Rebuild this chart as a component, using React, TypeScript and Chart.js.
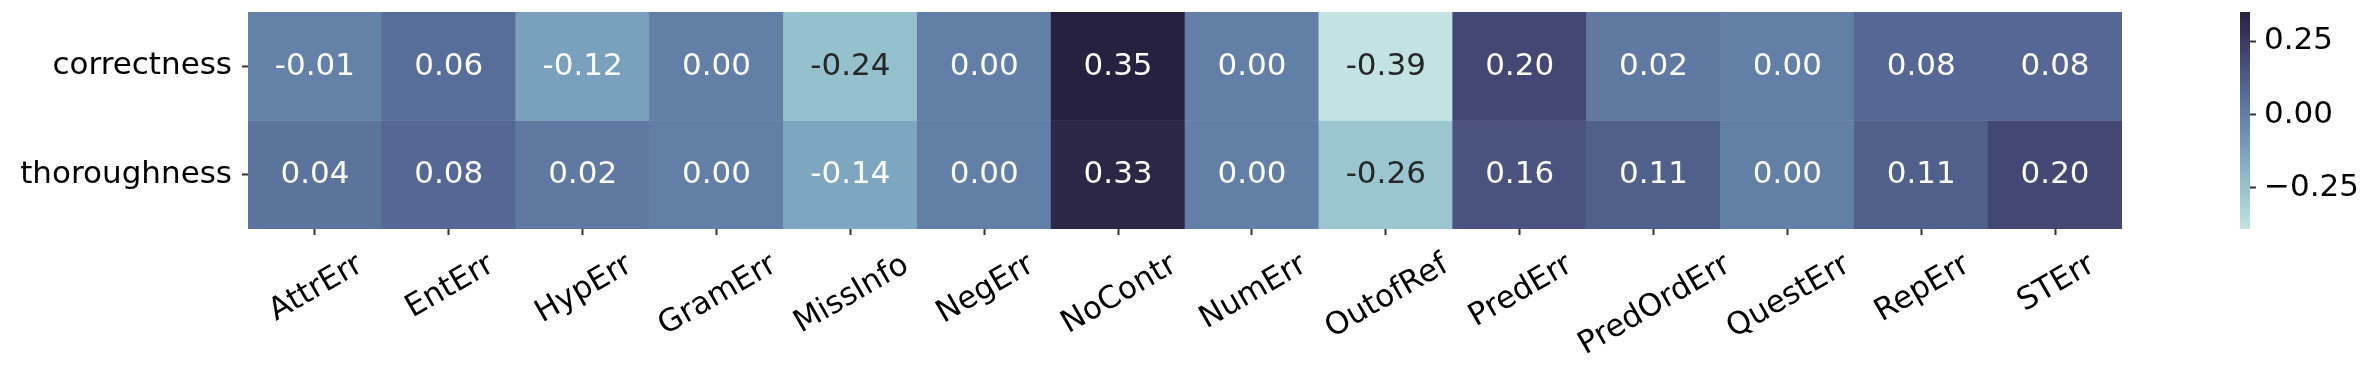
import React, { useEffect, useRef } from 'react';
import { Chart, registerables } from 'chart.js';

Chart.register(...registerables);

// ---- data ----
const CATEGORIES = ['AttrErr', 'EntErr', 'HypErr', 'GramErr', 'MissInfo', 'NegErr', 'NoContr', 'NumErr', 'OutofRef', 'PredErr', 'PredOrdErr', 'QuestErr', 'RepErr', 'STErr'];
const ROW_LABELS = ['correctness', 'thoroughness'];
const CORRECTNESS = [-0.01, 0.06, -0.12, 0.0, -0.24, 0.0, 0.35, 0.0, -0.39, 0.2, 0.02, 0.0, 0.08, 0.08];
const THOROUGHNESS = [0.04, 0.08, 0.02, 0.0, -0.14, 0.0, 0.33, 0.0, -0.26, 0.16, 0.11, 0.0, 0.11, 0.2];
const ROW_VALUES = [CORRECTNESS, THOROUGHNESS];
const COLORBAR_TICKS = [-0.25, 0, 0.25];

const VMIN = Math.min(...CORRECTNESS, ...THOROUGHNESS);
const VMAX = Math.max(...CORRECTNESS, ...THOROUGHNESS);

// ---- style ----
const FONT_FAMILY = '"DejaVu Sans", sans-serif';
const FONT_SIZE = 31;
const W = 2374;
const H = 368;
const MAIN_W = 2140;
const AREA_LEFT = 248;
const AREA_RIGHT = 2122;
const AREA_TOP = 12;
const AREA_BOTTOM = 229;
const TICK_LEN = 6;
const CB_LEFT = 2200;
const CB_W = 174;
const CB_AREA_L = 40;
const CB_AREA_W = 10;

// seaborn cubehelix_palette(start=.2, rot=-.3, light=.85, dark=.15)
function cubehelix(x: number): [number, number, number] {
  const start = 0.2, rot = -0.3, hue = 0.8;
  const a = (hue * x * (1 - x)) / 2;
  const phi = 2 * Math.PI * (start / 3 + rot * x);
  const c = Math.cos(phi), s = Math.sin(phi);
  const r = x + a * (-0.14861 * c + 1.78277 * s);
  const g = x + a * (-0.29227 * c - 0.90649 * s);
  const b = x + a * (1.97294 * c);
  const cl = (v: number) => Math.round(Math.max(0, Math.min(1, v)) * 255);
  return [cl(r), cl(g), cl(b)];
}
function rgbFor(v: number): [number, number, number] {
  const t = (v - VMIN) / (VMAX - VMIN);
  return cubehelix(0.85 - 0.7 * t);
}
function colorFor(v: number): string {
  const [r, g, b] = rgbFor(v);
  return `rgb(${r},${g},${b})`;
}
function textColorFor(v: number): string {
  const lin = (c: number) => {
    const s = c / 255;
    return s <= 0.03928 ? s / 12.92 : Math.pow((s + 0.055) / 1.055, 2.4);
  };
  const [r, g, b] = rgbFor(v);
  const L = 0.2126 * lin(r) + 0.7152 * lin(g) + 0.0722 * lin(b);
  return L > 0.408 ? '#262626' : '#ffffff';
}
function fmtCb(v: number): string {
  if (Math.abs(v) < 1e-9) return '0.00';
  return (v < 0 ? '\u2212' : '') + Math.abs(v).toFixed(2);
}

const annotPlugin = {
  id: 'annot',
  afterDatasetsDraw(chart: any) {
    const ctx = chart.ctx;
    ctx.save();
    ctx.font = `${FONT_SIZE}px ${FONT_FAMILY}`;
    ctx.textAlign = 'center';
    ctx.textBaseline = 'alphabetic';
    chart.data.datasets.forEach((ds: any, di: number) => {
      const meta = chart.getDatasetMeta(di);
      const vals = ROW_VALUES[di];
      meta.data.forEach((el: any, i: number) => {
        const p = el.getProps(['x', 'y', 'base'], true);
        const cy = (p.y + p.base) / 2;
        ctx.fillStyle = textColorFor(vals[i]);
        ctx.fillText(vals[i].toFixed(2), p.x, cy + 8.5);
      });
    });
    ctx.restore();
  },
};

const xLabelPlugin = {
  id: 'xlabels',
  afterDraw(chart: any) {
    const ctx = chart.ctx;
    const xs = chart.scales.x;
    const ang = (30 * Math.PI) / 180;
    ctx.save();
    ctx.font = `${FONT_SIZE}px ${FONT_FAMILY}`;
    ctx.fillStyle = '#000000';
    ctx.textAlign = 'center';
    ctx.textBaseline = 'alphabetic';
    const h = FONT_SIZE * 1.164;
    chart.data.labels.forEach((lab: string, i: number) => {
      const px = xs.getPixelForTick(i);
      const w = ctx.measureText(lab).width;
      const bh = w * Math.sin(ang) + h * Math.cos(ang);
      const cy = xs.top + TICK_LEN + 10 + bh / 2;
      ctx.save();
      ctx.translate(px, cy);
      ctx.rotate(-ang);
      ctx.fillText(lab, 0, FONT_SIZE * 0.346);
      ctx.restore();
    });
    ctx.restore();
  },
};

function MainChart() {
  const ref = useRef<HTMLCanvasElement>(null);
  useEffect(() => {
    const n = ROW_LABELS.length;
    const chart = new Chart(ref.current as HTMLCanvasElement, {
      type: 'bar',
      data: {
        labels: CATEGORIES,
        datasets: ROW_LABELS.map((row, ri) => ({
          label: row,
          data: ROW_VALUES[ri].map(() => [n - 1 - ri, n - ri]),
          backgroundColor: ROW_VALUES[ri].map(colorFor),
          borderWidth: 0,
          barPercentage: 1,
          categoryPercentage: 1,
          grouped: false,
        })) as any,
      },
      options: {
        animation: false,
        responsive: false,
        devicePixelRatio: 1,
        layout: { padding: { left: 0, top: AREA_TOP, right: MAIN_W - AREA_RIGHT, bottom: 0 }, autoPadding: false } as any,
        plugins: { legend: { display: false }, tooltip: { enabled: false } },
        scales: {
          x: {
            type: 'category',
            offset: true,
            grid: { offset: false, drawOnChartArea: false, drawTicks: true, tickLength: TICK_LEN, tickColor: '#333333', tickWidth: 2 },
            border: { display: false },
            ticks: { display: false },
            afterFit: (s: any) => {
              s.height = H - AREA_BOTTOM;
              s.paddingLeft = 0;
              s.paddingRight = 0;
            },
          },
          y: {
            type: 'linear',
            min: 0,
            max: n,
            afterBuildTicks: (s: any) => {
              s.ticks = ROW_LABELS.map((_, ri) => ({ value: n - ri - 0.5 }));
            },
            ticks: {
              callback: (v: any) => ROW_LABELS[n - 1 - Math.floor(Number(v))],
              font: { family: FONT_FAMILY, size: FONT_SIZE },
              color: '#000000',
              padding: 10,
              autoSkip: false,
            },
            grid: { drawOnChartArea: false, drawTicks: true, tickLength: TICK_LEN, tickColor: '#333333', tickWidth: 2 },
            border: { display: false },
            afterFit: (s: any) => {
              s.width = AREA_LEFT;
              s.paddingTop = 0;
              s.paddingBottom = 0;
            },
          },
        },
      } as any,
      plugins: [annotPlugin, xLabelPlugin],
    });
    return () => chart.destroy();
  }, []);
  return <canvas ref={ref} width={MAIN_W} height={H} style={{ position: 'absolute', left: 0, top: 0, width: MAIN_W, height: H }} />;
}

function ColorBar() {
  const ref = useRef<HTMLCanvasElement>(null);
  useEffect(() => {
    const chart = new Chart(ref.current as HTMLCanvasElement, {
      type: 'bar',
      data: {
        labels: ['colorbar'],
        datasets: [
          {
            data: [[VMIN, VMAX]],
            borderWidth: 0,
            barPercentage: 1,
            categoryPercentage: 1,
            backgroundColor: (c: any) => {
              const ch = c.chart;
              if (!ch.chartArea) return 'rgba(0,0,0,0)';
              const ys = ch.scales.y;
              const y0 = ys.getPixelForValue(VMIN);
              const y1 = ys.getPixelForValue(VMAX);
              const g = ch.ctx.createLinearGradient(0, y0, 0, y1);
              const N = 48;
              for (let k = 0; k <= N; k++) {
                g.addColorStop(k / N, colorFor(VMIN + ((VMAX - VMIN) * k) / N));
              }
              return g;
            },
          },
        ] as any,
      },
      options: {
        animation: false,
        responsive: false,
        devicePixelRatio: 1,
        layout: { padding: { left: CB_AREA_L, top: AREA_TOP, right: 0, bottom: H - AREA_BOTTOM }, autoPadding: false } as any,
        plugins: { legend: { display: false }, tooltip: { enabled: false } },
        scales: {
          x: { display: false },
          y: {
            type: 'linear',
            position: 'right',
            min: VMIN,
            max: VMAX,
            afterBuildTicks: (s: any) => {
              s.ticks = COLORBAR_TICKS.map((v) => ({ value: v }));
            },
            ticks: {
              callback: (v: any) => fmtCb(Number(v)),
              font: { family: FONT_FAMILY, size: FONT_SIZE },
              color: '#000000',
              padding: 8,
              autoSkip: false,
            },
            grid: { drawOnChartArea: false, drawTicks: true, tickLength: TICK_LEN, tickColor: '#333333', tickWidth: 2 },
            border: { display: false },
            afterFit: (s: any) => {
              s.width = CB_W - CB_AREA_L - CB_AREA_W;
              s.paddingTop = 0;
              s.paddingBottom = 0;
            },
          },
        },
      } as any,
    });
    return () => chart.destroy();
  }, []);
  return <canvas ref={ref} width={CB_W} height={H} style={{ position: 'absolute', left: CB_LEFT, top: 0, width: CB_W, height: H }} />;
}

export default function App() {
  return (
    <div style={{ position: 'fixed', left: 0, top: 0, width: W, height: H, background: '#ffffff', overflow: 'hidden' }}>
      <MainChart />
      <ColorBar />
    </div>
  );
}
